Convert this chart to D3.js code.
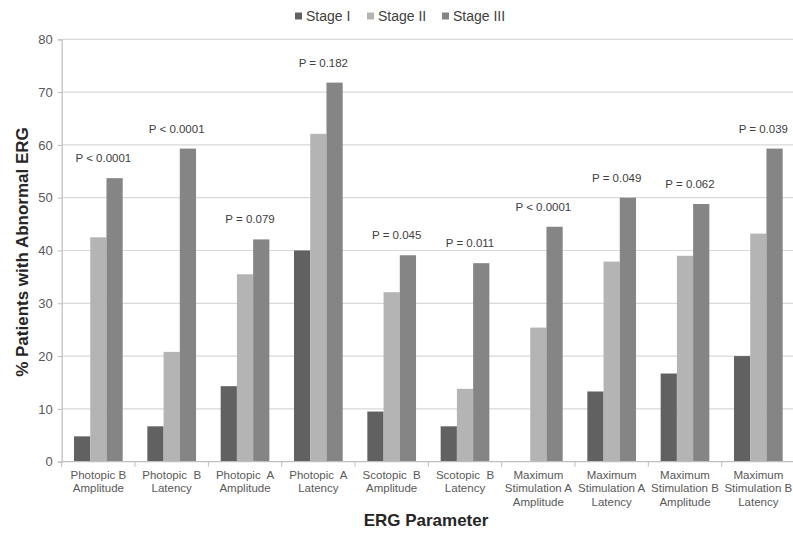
<!DOCTYPE html>
<html>
<head>
<meta charset="utf-8">
<script src="https://cdn.jsdelivr.net/npm/d3@7"></script>
<style>
  body { margin: 0; background: #fff; }
  svg { display: block; font-family: "Liberation Sans", Arial, sans-serif; }
</style>
</head>
<body>
<svg id="chart" width="793" height="534"></svg>
<script>
// ERG parameters (multi-line category labels)
const categories = [
  "Photopic B\nAmplitude",
  "Photopic  B\nLatency",
  "Photopic  A\nAmplitude",
  "Photopic  A\nLatency",
  "Scotopic  B\nAmplitude",
  "Scotopic  B\nLatency",
  "Maximum\nStimulation A\nAmplitude",
  "Maximum\nStimulation A\nLatency",
  "Maximum\nStimulation B\nAmplitude",
  "Maximum\nStimulation B\nLatency"
];
const seriesNames = ["Stage I", "Stage II", "Stage III"];
const stageI   = [4.8, 6.7, 14.3, 40.0, 9.5, 6.7, 0, 13.3, 16.7, 20.0];
const stageII  = [42.5, 20.8, 35.5, 62.1, 32.1, 13.8, 25.4, 37.9, 39.0, 43.2];
const stageIII = [53.7, 59.3, 42.1, 71.8, 39.1, 37.6, 44.5, 50.0, 48.8, 59.3];
const pLabels  = ["P < 0.0001", "P < 0.0001", "P = 0.079", "P = 0.182", "P = 0.045",
                  "P = 0.011", "P < 0.0001", "P = 0.049", "P = 0.062", "P = 0.039"];
const yTicks   = [0, 10, 20, 30, 40, 50, 60, 70, 80];

const colors = ["#616161", "#b4b4b4", "#858585"];
const series = [stageI, stageII, stageIII];

const svg = d3.select("#chart");
const plotLeft = 61.7, plotRight = 795, plotTop = 39.3, plotBottom = 461.7;

const x = d3.scaleBand().domain(categories).range([plotLeft, plotRight])
  .paddingInner(0.336).paddingOuter(0.168);
const xs = d3.scaleBand().domain(seriesNames).range([0, x.bandwidth()]);
const y = d3.scaleLinear().domain([0, 80]).range([plotBottom, plotTop]);

// horizontal gridlines
svg.append("g").selectAll("line").data(yTicks.filter(d => d > 0)).join("line")
  .attr("x1", plotLeft).attr("x2", plotRight)
  .attr("y1", d => y(d)).attr("y2", d => y(d))
  .attr("stroke", "#d9d9d9").attr("stroke-width", 1.2);

// y axis
const yAxis = svg.append("g").attr("transform", `translate(${plotLeft},0)`)
  .call(d3.axisLeft(y).tickValues(yTicks).tickSize(4).tickPadding(5));
yAxis.select(".domain").attr("stroke", "#bfbfbf").attr("stroke-width", 1.2);
yAxis.selectAll(".tick line").attr("stroke", "#bfbfbf");
yAxis.selectAll(".tick text").attr("font-size", 13).attr("fill", "#595959")
  .attr("font-family", "Liberation Sans, Arial, sans-serif");

// bars
const groups = svg.append("g").selectAll("g").data(categories).join("g")
  .attr("transform", d => `translate(${x(d)},0)`);
groups.selectAll("rect")
  .data((d, i) => series.map((s, k) => ({ k, v: s[i] })))
  .join("rect")
  .attr("x", d => xs(seriesNames[d.k]))
  .attr("width", xs.bandwidth())
  .attr("y", d => y(d.v))
  .attr("height", d => y(0) - y(d.v))
  .attr("fill", d => colors[d.k]);

// x axis with category boundary ticks
const step = x.step();
svg.append("line").attr("x1", plotLeft).attr("x2", plotRight)
  .attr("y1", plotBottom).attr("y2", plotBottom)
  .attr("stroke", "#bfbfbf").attr("stroke-width", 1.2);
svg.append("g").selectAll("line").data(d3.range(categories.length + 1)).join("line")
  .attr("x1", i => plotLeft + i * step).attr("x2", i => plotLeft + i * step)
  .attr("y1", plotBottom).attr("y2", plotBottom + 5)
  .attr("stroke", "#bfbfbf");

// category labels
svg.append("g").selectAll("text").data(categories).join("text")
  .attr("x", d => x(d) + x.bandwidth() / 2)
  .attr("y", plotBottom + 17)
  .attr("text-anchor", "middle")
  .attr("font-size", 11.5).attr("fill", "#595959")
  .style("white-space", "pre")
  .each(function (d) {
    const t = d3.select(this);
    d.split("\n").forEach((line, j) => {
      t.append("tspan").attr("x", x(d) + x.bandwidth() / 2)
        .attr("dy", j === 0 ? 0 : 13.6).text(line);
    });
  });

// p-value labels above each group
svg.append("g").selectAll("text").data(categories).join("text")
  .attr("x", d => x(d) + x.bandwidth() / 2 + 5)
  .attr("y", (d, i) => y(Math.max(stageI[i], stageII[i], stageIII[i])) - 16)
  .attr("text-anchor", "middle")
  .attr("font-size", 11.5).attr("fill", "#404040")
  .text((d, i) => pLabels[i]);

// axis titles
svg.append("text").attr("x", 426).attr("y", 526)
  .attr("text-anchor", "middle").attr("font-size", 17).attr("font-weight", "bold")
  .attr("fill", "#262626").text("ERG Parameter");
svg.append("text")
  .attr("transform", "translate(28,252) rotate(-90)")
  .attr("text-anchor", "middle").attr("font-size", 17).attr("font-weight", "bold")
  .attr("fill", "#262626").text("% Patients with Abnormal ERG");

// legend
const legendX = [295, 367, 442];
const legend = svg.append("g").selectAll("g").data(seriesNames).join("g")
  .attr("transform", (d, i) => `translate(${legendX[i]},0)`);
legend.append("rect").attr("x", 0).attr("y", 12.5).attr("width", 7).attr("height", 7)
  .attr("fill", (d, i) => colors[i]);
legend.append("text").attr("x", 11).attr("y", 21)
  .attr("font-size", 14).attr("fill", "#404040").text(d => d);
</script>
</body>
</html>
